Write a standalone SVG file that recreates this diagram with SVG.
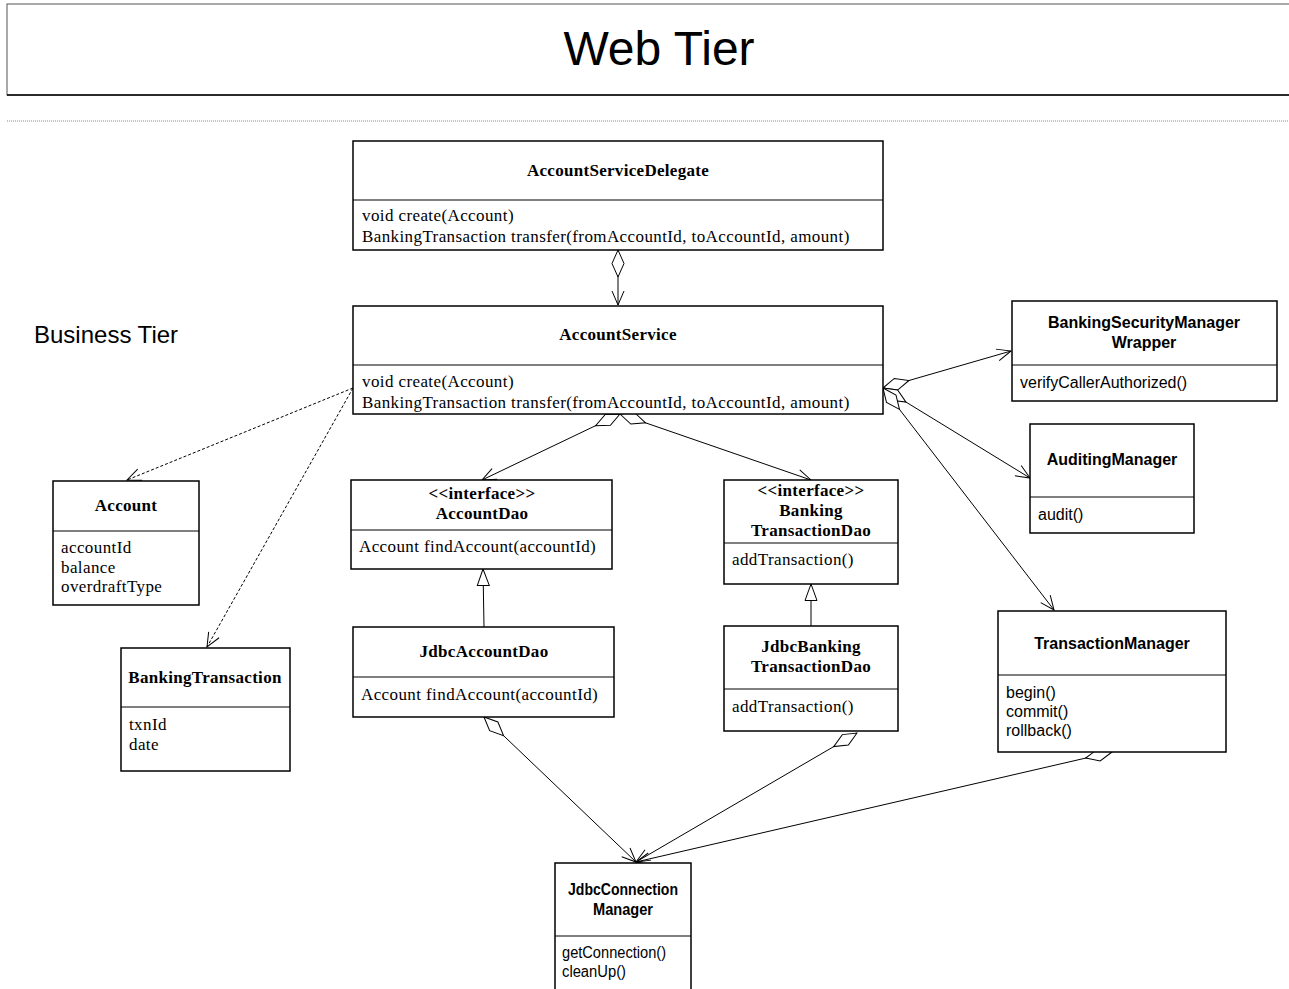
<svg xmlns="http://www.w3.org/2000/svg" width="1289" height="989" viewBox="0 0 1289 989">
<style>
.box{fill:#fff;stroke:#000;stroke-width:1.5}
.sep{stroke:#000;stroke-width:1.2}
.st{font-family:"Liberation Serif",serif;font-weight:bold;font-size:17px;letter-spacing:0.3px;text-anchor:middle;fill:#000}
.sm{font-family:"Liberation Serif",serif;font-size:17px;letter-spacing:0.4px;fill:#000}
.at{font-family:"Liberation Sans",Arial,sans-serif;font-weight:bold;font-size:16px;text-anchor:middle;fill:#000}
.am{font-family:"Liberation Sans",Arial,sans-serif;font-size:16px;fill:#000}
.ln{fill:none;stroke:#000;stroke-width:1}
.dash{stroke-dasharray:3,2}
.agg{marker-start:url(#dia);marker-end:url(#open)}
</style>
<defs>
<marker id="open" markerUnits="userSpaceOnUse" markerWidth="18" markerHeight="14" refX="15" refY="7" orient="auto" overflow="visible">
<path d="M1,1 L15,7 L1,13" fill="none" stroke="#000" stroke-width="1"/>
</marker>
<marker id="dia" markerUnits="userSpaceOnUse" markerWidth="30" markerHeight="14" refX="0.5" refY="7" orient="auto" overflow="visible">
<path d="M0.5,7 L14,1 L27.5,7 L14,13 Z" fill="#fff" stroke="#000" stroke-width="1"/>
</marker>
<marker id="tri" markerUnits="userSpaceOnUse" markerWidth="20" markerHeight="14" refX="17" refY="7" orient="auto" overflow="visible">
<path d="M0.5,1 L17,7 L0.5,13 Z" fill="#fff" stroke="#000" stroke-width="1"/>
</marker>
</defs>

<g id="web-tier">
<rect x="7" y="4" width="1300" height="91" fill="#fff" stroke="#555" stroke-width="1"/>
<line x1="7" y1="95" x2="1289" y2="95" stroke="#000" stroke-width="1.5"/>
<text x="659" y="65" font-family="'Liberation Sans',Arial,sans-serif" font-size="48" text-anchor="middle">Web Tier</text>
</g>
<line x1="7" y1="121" x2="1289" y2="121" stroke="#888" stroke-width="1" stroke-dasharray="1,1"/>
<text x="34" y="343" font-family="'Liberation Sans',Arial,sans-serif" font-size="24">Business Tier</text>

<g id="connectors">
<path class="ln agg" d="M618,250 L618,305"/>
<path class="ln agg" d="M620,414 L482,480"/>
<path class="ln agg" d="M620,414 L811,480"/>
<path class="ln agg" d="M883,388 L1011,351"/>
<path class="ln agg" d="M883,388 L1030,478"/>
<path class="ln agg" d="M883,388 L1054,610"/>
<path class="ln dash" marker-end="url(#open)" d="M353,388 L127,480"/>
<path class="ln dash" marker-end="url(#open)" d="M353,388 L207,647"/>
<path class="ln" marker-end="url(#tri)" d="M484,627 L483,569"/>
<path class="ln" marker-end="url(#tri)" d="M811,626 L811,584"/>
<path class="ln agg" d="M484,717 L636,862"/>
<path class="ln agg" d="M857,733 L636,862"/>
<path class="ln agg" d="M1112,752 L636,862"/>
</g>

<g id="AccountServiceDelegate">
<rect class="box" x="353" y="141" width="530" height="109"/>
<line class="sep" x1="353" y1="200" x2="883" y2="200"/>
<text class="st" x="618" y="176">AccountServiceDelegate</text>
<text class="sm" x="362" y="221">void create(Account)</text>
<text class="sm" x="362" y="242">BankingTransaction transfer(fromAccountId, toAccountId, amount)</text>
</g>

<g id="AccountService">
<rect class="box" x="353" y="306" width="530" height="108"/>
<line class="sep" x1="353" y1="365" x2="883" y2="365"/>
<text class="st" x="618" y="340">AccountService</text>
<text class="sm" x="362" y="387">void create(Account)</text>
<text class="sm" x="362" y="408">BankingTransaction transfer(fromAccountId, toAccountId, amount)</text>
</g>

<g id="BankingSecurityManagerWrapper">
<rect class="box" x="1012" y="301" width="265" height="100"/>
<line class="sep" x1="1012" y1="365" x2="1277" y2="365"/>
<text class="at" x="1144" y="328">BankingSecurityManager</text>
<text class="at" x="1144" y="348">Wrapper</text>
<text class="am" x="1020" y="388">verifyCallerAuthorized()</text>
</g>

<g id="AuditingManager">
<rect class="box" x="1030" y="424" width="164" height="109"/>
<line class="sep" x1="1030" y1="497" x2="1194" y2="497"/>
<text class="at" x="1112" y="465">AuditingManager</text>
<text class="am" x="1038" y="520">audit()</text>
</g>

<g id="TransactionManager">
<rect class="box" x="998" y="611" width="228" height="141"/>
<line class="sep" x1="998" y1="675" x2="1226" y2="675"/>
<text class="at" x="1112" y="649">TransactionManager</text>
<text class="am" x="1006" y="698">begin()</text>
<text class="am" x="1006" y="717">commit()</text>
<text class="am" x="1006" y="736">rollback()</text>
</g>

<g id="Account">
<rect class="box" x="53" y="481" width="146" height="124"/>
<line class="sep" x1="53" y1="531" x2="199" y2="531"/>
<text class="st" x="126" y="511">Account</text>
<text class="sm" x="61" y="553">accountId</text>
<text class="sm" x="61" y="573">balance</text>
<text class="sm" x="61" y="592">overdraftType</text>
</g>

<g id="BankingTransaction">
<rect class="box" x="121" y="648" width="169" height="123"/>
<line class="sep" x1="121" y1="707" x2="290" y2="707"/>
<text class="st" x="205" y="683">BankingTransaction</text>
<text class="sm" x="129" y="730">txnId</text>
<text class="sm" x="129" y="750">date</text>
</g>

<g id="AccountDao">
<rect class="box" x="351" y="480" width="261" height="89"/>
<line class="sep" x1="351" y1="530" x2="612" y2="530"/>
<text class="st" x="482" y="499">&lt;&lt;interface&gt;&gt;</text>
<text class="st" x="482" y="519">AccountDao</text>
<text class="sm" x="359" y="552">Account findAccount(accountId)</text>
</g>

<g id="BankingTransactionDao">
<rect class="box" x="724" y="480" width="174" height="104"/>
<line class="sep" x1="724" y1="543" x2="898" y2="543"/>
<text class="st" x="811" y="496">&lt;&lt;interface&gt;&gt;</text>
<text class="st" x="811" y="516">Banking</text>
<text class="st" x="811" y="536">TransactionDao</text>
<text class="sm" x="732" y="565">addTransaction()</text>
</g>

<g id="JdbcAccountDao">
<rect class="box" x="353" y="627" width="261" height="90"/>
<line class="sep" x1="353" y1="677" x2="614" y2="677"/>
<text class="st" x="484" y="657">JdbcAccountDao</text>
<text class="sm" x="361" y="700">Account findAccount(accountId)</text>
</g>

<g id="JdbcBankingTransactionDao">
<rect class="box" x="724" y="626" width="174" height="105"/>
<line class="sep" x1="724" y1="689" x2="898" y2="689"/>
<text class="st" x="811" y="652">JdbcBanking</text>
<text class="st" x="811" y="672">TransactionDao</text>
<text class="sm" x="732" y="712">addTransaction()</text>
</g>

<g id="JdbcConnectionManager">
<rect class="box" x="555" y="863" width="136" height="132"/>
<line class="sep" x1="555" y1="936" x2="691" y2="936"/>
<text class="at" x="623" y="895" textLength="110" lengthAdjust="spacingAndGlyphs">JdbcConnection</text>
<text class="at" x="623" y="915" textLength="60" lengthAdjust="spacingAndGlyphs">Manager</text>
<text class="am" x="562" y="958" textLength="104" lengthAdjust="spacingAndGlyphs">getConnection()</text>
<text class="am" x="562" y="977" textLength="64" lengthAdjust="spacingAndGlyphs">cleanUp()</text>
</g>
</svg>
